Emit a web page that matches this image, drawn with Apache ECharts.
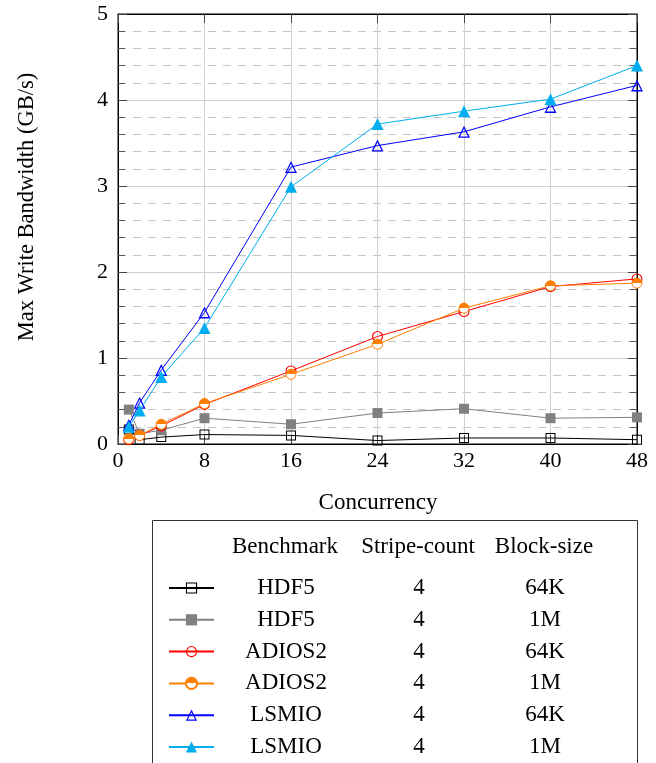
<!DOCTYPE html>
<html>
<head>
<meta charset="utf-8">
<script src="https://cdn.jsdelivr.net/npm/echarts@6/dist/echarts.min.js"></script>
<style>
  html, body { margin: 0; padding: 0; background: #fff; }
  #chart { width: 656px; height: 763px; }
</style>
</head>
<body>
<div id="chart"></div>
<script>
// Concurrency levels (x values)
const concurrency = [1, 2, 4, 8, 16, 24, 32, 40, 48];

// Max write bandwidth, GB/s
const hdf5_64k  = [0.17, 0.05, 0.08, 0.11, 0.10, 0.04, 0.07, 0.07, 0.05];
const hdf5_1m   = [0.40, 0.12, 0.16, 0.30, 0.23, 0.36, 0.41, 0.30, 0.31];
const adios_64k = [0.05, 0.10, 0.21, 0.46, 0.85, 1.25, 1.54, 1.83, 1.92];
const adios_1m  = [0.06, 0.10, 0.23, 0.47, 0.81, 1.16, 1.58, 1.84, 1.87];
const lsmio_64k = [0.22, 0.48, 0.86, 1.53, 3.22, 3.47, 3.63, 3.92, 4.17];
const lsmio_1m  = [0.20, 0.39, 0.78, 1.35, 2.99, 3.72, 3.87, 4.01, 4.40];

// Legend table columns
const benchmarks   = ['HDF5', 'HDF5', 'ADIOS2', 'ADIOS2', 'LSMIO', 'LSMIO'];
const stripeCounts = ['4', '4', '4', '4', '4', '4'];
const blockSizes   = ['64K', '1M', '64K', '1M', '64K', '1M'];
const tableHeader  = ['Benchmark', 'Stripe-count', 'Block-size'];

const seriesValues = [hdf5_64k, hdf5_1m, adios_64k, adios_1m, lsmio_64k, lsmio_1m];

const FONT = '"Liberation Serif", "Times New Roman", serif';
const FS = 22;      // tick labels, axis title
const FS_TXT = 23;  // legend table and x title

// Hollow marker outlines (inner sub-path wound the other way leaves a hole)
const SQUARE_OPEN = 'path://M0,0H10V10H0Z M1,1V9H9V1Z';
const CIRCLE_OPEN = 'path://M5,0A5,5,0,1,1,5,10A5,5,0,1,1,5,0Z M5,1A4,4,0,1,0,5,9A4,4,0,1,0,5,1Z';
const TRI_OPEN = 'path://M5,0L10,9L0,9Z M5,2.06L1.7,8L8.3,8Z';

// Upper half orange, lower half white
const halfOrange = {
  type: 'linear', x: 0, y: 0, x2: 0, y2: 1,
  colorStops: [
    { offset: 0, color: '#ff8000' }, { offset: 0.5, color: '#ff8000' },
    { offset: 0.5, color: '#ffffff' }, { offset: 1, color: '#ffffff' }
  ]
};

const looks = [
  { color: '#000000', symbol: SQUARE_OPEN, size: 10, fill: '#000000', border: 0 },
  { color: '#808080', symbol: 'rect', size: 10, fill: '#808080', border: 0 },
  { color: '#ff0000', symbol: CIRCLE_OPEN, size: 11, fill: '#ff0000', border: 0 },
  { color: '#ff8000', symbol: 'circle', size: 10, fill: halfOrange, border: 1 },
  { color: '#0000ff', symbol: TRI_OPEN, size: 12, fill: '#0000ff', border: 0 },
  { color: '#00aeef', symbol: 'triangle', size: 12, fill: '#00aeef', border: 0 }
];

const names = benchmarks.map((b, i) => b + ' ' + blockSizes[i]);

const series = seriesValues.map((vals, i) => ({
  name: names[i],
  type: 'line',
  data: concurrency.map((x, j) => [x, vals[j]]),
  symbol: looks[i].symbol,
  symbolSize: looks[i].size,
  showAllSymbol: true,
  lineStyle: { color: looks[i].color, width: 1 },
  itemStyle: { color: looks[i].fill, borderColor: looks[i].color, borderWidth: looks[i].border },
  emphasis: { disabled: true },
  z: 2 + i
}));

const rowTop = 583.5, rowStep = 31.8, iconH = 14;
const richCell = (w) => ({ width: w, align: 'center', fontFamily: FONT, fontSize: FS_TXT, color: '#000', lineHeight: iconH });
const legends = names.map((n, i) => ({
  data: [n],
  orient: 'vertical',
  left: 168,
  top: rowTop + i * rowStep - iconH / 2,
  padding: 0,
  itemWidth: 45,
  itemHeight: iconH,
  selectedMode: false,
  formatter: () => '{a|' + benchmarks[i] + '}{b|' + stripeCounts[i] + '}{c|' + blockSizes[i] + '}',
  textStyle: {
    fontFamily: FONT, fontSize: FS_TXT, color: '#000',
    rich: { a: richCell(134), b: richCell(132), c: richCell(120) }
  }
}));

const headerX = [285, 418, 544];
const graphics = [
  {
    type: 'rect', silent: true, z: 0,
    shape: { x: 152.5, y: 520.5, width: 485, height: 260 },
    style: { fill: 'none', stroke: '#333', lineWidth: 1 }
  },
  ...tableHeader.map((t, k) => ({
    type: 'text', silent: true,
    x: headerX[k], y: 547,
    style: { text: t, font: FS_TXT + 'px ' + FONT, fill: '#000', align: 'center', verticalAlign: 'middle' }
  })),
  {
    type: 'text', silent: true,
    x: 378, y: 503,
    style: { text: 'Concurrency', font: FS_TXT + 'px ' + FONT, fill: '#000', align: 'center', verticalAlign: 'middle' }
  },
  {
    type: 'text', silent: true,
    x: 27, y: 207, rotation: Math.PI / 2,
    style: { text: 'Max Write Bandwidth (GB/s)', font: '22.5px ' + FONT, fill: '#000', align: 'center', verticalAlign: 'middle' }
  }
];

const tickLine = { color: '#444', width: 1 };

const option = {
  animation: false,
  backgroundColor: '#fff',
  grid: {
    left: 118, right: 19, top: 14, bottom: 319,
    containLabel: false, outerBoundsMode: 'none',
    show: true, borderColor: '#000', borderWidth: 1, backgroundColor: 'transparent'
  },
  xAxis: [
    {
      type: 'value', min: 0, max: 48, interval: 8, position: 'bottom',
      axisLine: { show: true, onZero: false, lineStyle: { color: '#000', width: 1 } },
      axisTick: { show: true, inside: true, length: 9, lineStyle: tickLine },
      axisLabel: { fontFamily: FONT, fontSize: FS, color: '#000', margin: 6 },
      splitLine: { show: true, lineStyle: { color: '#cfcfcf', width: 1 } }
    },
    {
      type: 'value', min: 0, max: 48, interval: 8, position: 'top',
      axisLine: { show: true, onZero: false, lineStyle: { color: '#000', width: 1 } },
      axisTick: { show: true, inside: true, length: 9, lineStyle: tickLine },
      axisLabel: { show: false },
      splitLine: { show: false }
    }
  ],
  yAxis: [
    {
      type: 'value', min: 0, max: 5, interval: 1, position: 'left',
      axisLine: { show: true, onZero: false, lineStyle: { color: '#000', width: 1 } },
      axisTick: { show: true, inside: true, length: 9, lineStyle: tickLine },
      minorTick: { show: true, splitNumber: 5, length: 7, lineStyle: { color: '#555', width: 1 } },
      axisLabel: { fontFamily: FONT, fontSize: FS, color: '#000', margin: 10 },
      splitLine: { show: true, lineStyle: { color: '#cfcfcf', width: 1 } },
      minorSplitLine: { show: true, lineStyle: { color: '#c4c4c4', width: 1, type: [8, 7] } }
    },
    {
      type: 'value', min: 0, max: 5, interval: 1, position: 'right',
      axisLine: { show: true, onZero: false, lineStyle: { color: '#000', width: 1 } },
      axisTick: { show: true, inside: true, length: 9, lineStyle: tickLine },
      minorTick: { show: true, splitNumber: 5, length: 7, lineStyle: { color: '#555', width: 1 } },
      axisLabel: { show: false },
      splitLine: { show: false }
    }
  ],
  legend: legends,
  graphic: graphics,
  series: series
};

const chart = echarts.init(document.getElementById('chart'), null, { renderer: 'canvas' });
chart.setOption(option);
</script>
</body>
</html>
